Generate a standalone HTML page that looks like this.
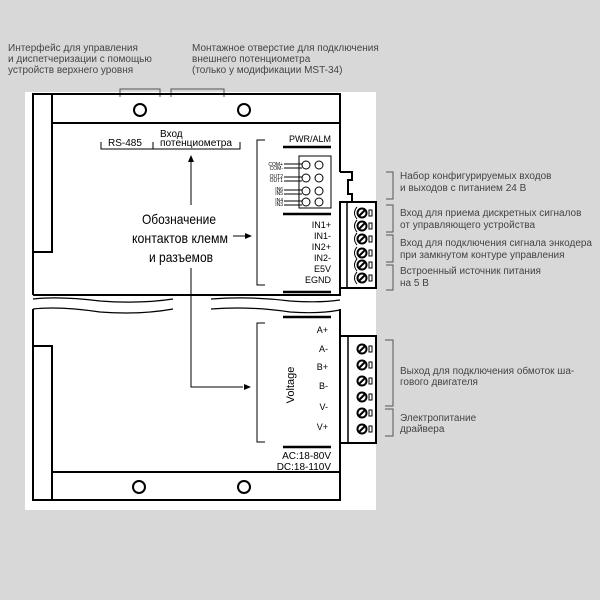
<!DOCTYPE html>
<html><head><meta charset="utf-8"><style>
html,body{margin:0;padding:0;background:#d8d8d8}
svg{display:block}
text{font-family:"Liberation Sans",sans-serif}
</style></head><body>
<svg width="600" height="600" viewBox="0 0 600 600" xmlns="http://www.w3.org/2000/svg">
<defs>
<g id="scr" stroke="#000" fill="none"><circle cx="0" cy="0" r="4.5" stroke-width="2"/><path d="M-3 3L3 -3" stroke-width="2"/><rect x="7" y="-3" width="3" height="6" stroke-width="1"/><path d="M-5 -6Q-10 0 -5 6" stroke-width="1"/></g>
<g id="scr2" stroke="#000" fill="none"><circle cx="0" cy="0" r="4.5" stroke-width="2"/><path d="M-3 3L3 -3" stroke-width="2"/><rect x="7" y="-3" width="3" height="6" stroke-width="1"/></g>
</defs>
<rect width="600" height="600" fill="#d8d8d8"/>
<rect x="25" y="92" width="351" height="418" fill="#fff"/>
<g font-size="10" fill="#444">
<text x="8" y="51">Интерфейс для управления</text>
<text x="8" y="62">и диспетчеризации с помощью</text>
<text x="8" y="73">устройств верхнего уровня</text>
<text x="192" y="51">Монтажное отверстие для подключения</text>
<text x="192" y="62">внешнего потенциометра</text>
<text x="192" y="73">(только у модификации MST-34)</text>
</g>
<path d="M120 97V89H160V97M171 97V89H224V97" stroke="#555" fill="none"/>
<g stroke="#000" fill="none" stroke-width="2">
<path d="M33 295V94H340V172"/>
<path d="M52 94V252H33"/>
<path d="M52 123H340"/>
<path d="M33 295H340V288"/>
<circle cx="140" cy="110" r="6"/>
<circle cx="244" cy="110" r="6"/>
</g>
<g stroke="#000" fill="none" stroke-width="1.2">
<path d="M33 299Q60 296 100 301Q140 304 173 299"/>
<path d="M211 299Q250 296 290 301Q320 303 340 300"/>
<path d="M33 309Q60 306 100 312Q140 315 173 309"/>
<path d="M211 309Q250 306 290 312Q320 314 340 310"/>
</g>
<g stroke="#000" fill="none" stroke-width="2">
<path d="M33 309V500H340V309"/>
<path d="M33 346H52V500"/>
<path d="M52 472H340"/>
<circle cx="139" cy="487" r="6"/>
<circle cx="244" cy="487" r="6"/>
</g>
<path d="M101 142V149H240V142M153 142V149" stroke="#000" fill="none"/>
<g font-size="10" fill="#000">
<text x="108" y="146">RS-485</text>
<text x="160" y="137">Вход</text>
<text x="160" y="146" textLength="72" lengthAdjust="spacingAndGlyphs">потенциометра</text>
</g>
<g stroke="#000" fill="none" stroke-width="1">
<path d="M191 205V160"/>
<path d="M233 236H246"/>
<path d="M191 268V387H243"/>
</g>
<g fill="#000">
<path d="M191 155L188 162H194Z"/>
<path d="M252 236L245 233V239Z"/>
<path d="M251 387L244 384V390Z"/>
</g>
<g font-size="14" fill="#000">
<text x="142" y="224" textLength="74" lengthAdjust="spacingAndGlyphs">Обозначение</text>
<text x="132" y="243" textLength="96" lengthAdjust="spacingAndGlyphs">контактов клемм</text>
<text x="149" y="262" textLength="64" lengthAdjust="spacingAndGlyphs">и разъемов</text>
</g>
<path d="M265 140H257V285H265" stroke="#000" fill="none"/>
<text x="331" y="142" font-size="9" text-anchor="end" fill="#000">PWR/ALM</text>
<path d="M283 147H331M283 214H331M283 292H331M283 317H331M283 447H331" stroke="#000" stroke-width="2.5"/>
<rect x="299" y="156" width="32" height="52" fill="none" stroke="#000" stroke-width="1"/>
<g stroke="#000" fill="none" stroke-width="1">
<circle cx="306" cy="165" r="4"/><circle cx="319" cy="165" r="4"/>
<circle cx="306" cy="178" r="4"/><circle cx="319" cy="178" r="4"/>
<circle cx="306" cy="191" r="4"/><circle cx="319" cy="191" r="4"/>
<circle cx="306" cy="202" r="4"/><circle cx="319" cy="202" r="4"/>
<path d="M284 164H302M284 168H302M284 177H302M284 181H302M284 190H302M284 194H302M284 201H302M284 205H302"/>
</g>
<g font-size="5" fill="#000" text-anchor="end">
<text x="283" y="166">COM+</text><text x="283" y="170">COM-</text>
<text x="283" y="178">OUT2</text><text x="283" y="182">OUT1</text>
<text x="283" y="191">IN6</text><text x="283" y="195">IN5</text>
<text x="283" y="202">IN4</text><text x="283" y="206">IN3</text>
</g>
<g font-size="9" fill="#000" text-anchor="end">
<text x="331" y="228">IN1+</text><text x="331" y="239">IN1-</text>
<text x="331" y="250">IN2+</text><text x="331" y="261">IN2-</text>
<text x="331" y="272">E5V</text><text x="331" y="283">EGND</text>
</g>
<path d="M340 172H352V180H348V194H352V202" stroke="#000" fill="none" stroke-width="2"/>
<rect x="340" y="202" width="36" height="86" fill="#fff" stroke="#000" stroke-width="2"/>
<path d="M347 202V288" stroke="#000" stroke-width="1.5"/>
<use href="#scr" transform="translate(362 213)"/>
<use href="#scr" transform="translate(362 226)"/>
<use href="#scr" transform="translate(362 239)"/>
<use href="#scr" transform="translate(362 253)"/>
<use href="#scr" transform="translate(362 265)"/>
<use href="#scr" transform="translate(362 278)"/>
<path d="M265 323H257V442H265" stroke="#000" fill="none"/>
<g font-size="9" fill="#000" text-anchor="end">
<text x="328" y="333">A+</text><text x="328" y="352">A-</text>
<text x="328" y="370">B+</text><text x="328" y="389">B-</text>
<text x="328" y="410">V-</text><text x="328" y="430">V+</text>
</g>
<text transform="translate(294 385) rotate(-90)" font-size="11" text-anchor="middle" fill="#000">Voltage</text>
<g font-size="10" fill="#000" text-anchor="end">
<text x="331" y="459">AC:18-80V</text>
<text x="331" y="470">DC:18-110V</text>
</g>
<rect x="340" y="336" width="36" height="107" fill="#fff" stroke="#000" stroke-width="2"/>
<path d="M348 336V443" stroke="#000" stroke-width="1.5"/>
<use href="#scr2" transform="translate(362 349)"/>
<use href="#scr2" transform="translate(362 365)"/>
<use href="#scr2" transform="translate(362 381)"/>
<use href="#scr2" transform="translate(362 397)"/>
<use href="#scr2" transform="translate(362 413)"/>
<use href="#scr2" transform="translate(362 429)"/>
<g stroke="#555" fill="none" stroke-width="1">
<path d="M386 172H393V199H386"/>
<path d="M386 205H393V232H386"/>
<path d="M386 235H393V262H386"/>
<path d="M386 265H393V290H386"/>
<path d="M385 340H393V406H385"/>
<path d="M385 409H393V436H385"/>
</g>
<g font-size="10" fill="#444">
<text x="400" y="179">Набор конфигурируемых входов</text>
<text x="400" y="191">и выходов с питанием 24 В</text>
<text x="400" y="216">Вход для приема дискретных сигналов</text>
<text x="400" y="228">от управляющего устройства</text>
<text x="400" y="246">Вход для подключения сигнала энкодера</text>
<text x="400" y="258">при замкнутом контуре управления</text>
<text x="400" y="274">Встроенный источник питания</text>
<text x="400" y="286">на 5 В</text>
<text x="400" y="374">Выход для подключения обмоток ша-</text>
<text x="400" y="385">гового двигателя</text>
<text x="400" y="421">Электропитание</text>
<text x="400" y="432">драйвера</text>
</g>
</svg>
</body></html>
